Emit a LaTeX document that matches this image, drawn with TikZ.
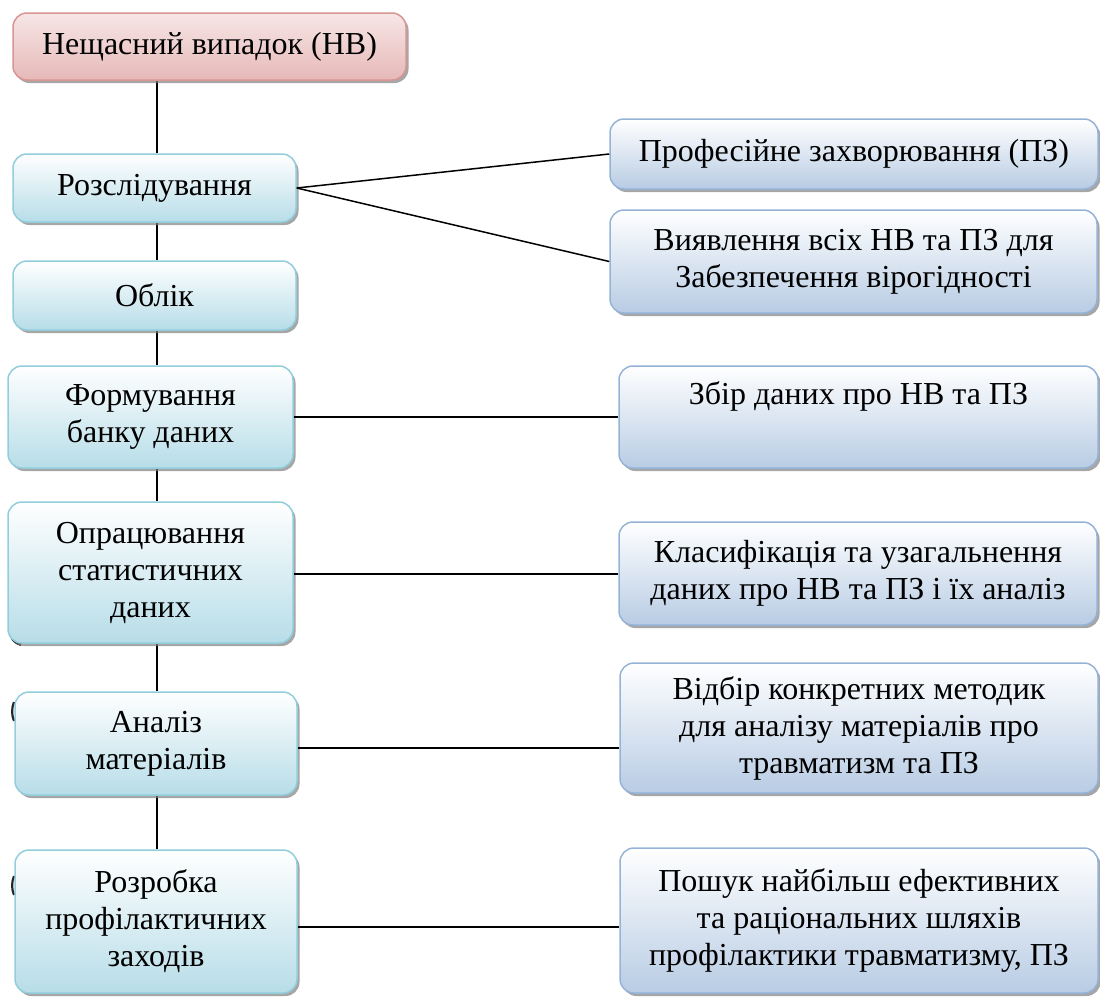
\documentclass[tikz,border=0pt]{standalone}
\usepackage{fontspec}
\setmainfont{Liberation Serif}
\usetikzlibrary{shadows,backgrounds}
\definecolor{lbBorder}{HTML}{92CDDC}
\definecolor{lbFill}{HTML}{B7DDE8}
\definecolor{rbBorder}{HTML}{95B3D7}
\definecolor{rbFill}{HTML}{B8CCE4}
\definecolor{pkBorder}{HTML}{D99594}
\definecolor{pkFill}{HTML}{E6B9B8}
\tikzset{
  box/.style={rounded corners=14pt, line width=1.5pt, align=center, inner sep=0pt,
    font=\fontsize{32}{37}\selectfont,
    drop shadow={shadow xshift=2.5pt, shadow yshift=-3pt, fill=black!50, opacity=0.7}},
  leftbox/.style={box, draw=lbBorder, top color=white, bottom color=lbFill},
  rightbox/.style={box, draw=rbBorder, top color=white, bottom color=rbFill},
  pinkbox/.style={box, draw=pkBorder, top color=pkFill!35, bottom color=pkFill},
  conn/.style={line width=1.5pt, black},
  speck/.style={line width=2.2pt, black!85},
}
\begin{document}
\begin{tikzpicture}[x=1pt,y=-1pt]
\useasboundingbox (0,0) rectangle (1100,1001);
\coordinate (spine) at (157,0);
% small dark marks peeking out at the left of three boxes
\draw[speck] (9.5,630) .. controls (10,638) and (14,643) .. (21,645);
\draw[speck] (14,702) .. controls (11.5,708) and (11.5,715) .. (14,721);
\draw[speck] (14,876) .. controls (11.5,882) and (11.5,889) .. (14,895);
% left column
\node[pinkbox, minimum width=393pt, minimum height=67pt] (nv) at (209.5,46.5) {Нещасний випадок (НВ)};
\node[leftbox, minimum width=283pt, minimum height=68pt] (rozsl) at (154.5,188) {Розслідування};
\node[leftbox, minimum width=283pt, minimum height=69pt] (oblik) at (154.5,295.5) {Облік};
\node[leftbox, minimum width=285pt, minimum height=102pt] (form) at (150.5,417) {Формування\\банку даних};
\node[leftbox, minimum width=285pt, minimum height=141pt] (opr) at (150.5,572.5) {Опрацювання\\статистичних\\даних};
\node[leftbox, minimum width=282pt, minimum height=103pt] (analiz) at (156,743.5) {Аналіз\\матеріалів};
\node[leftbox, minimum width=282pt, minimum height=143pt] (rozrob) at (156,921.5) {Розробка\\профілактичних\\заходів};
% right column
\node[rightbox, minimum width=488pt, minimum height=70pt] (prof) at (854,154) {Професійне захворювання (ПЗ)};
\node[rightbox, minimum width=487pt, minimum height=103pt] (vyav) at (853.5,261.5) {Виявлення всіх НВ та ПЗ для\\Забезпечення вірогідності};
\node[rightbox, minimum width=479pt, minimum height=102pt] (zbir) at (858.5,417) {Збір даних про НВ та ПЗ\\\strut};
\node[rightbox, minimum width=478pt, minimum height=103pt] (klas) at (858,573.5) {Класифікація та узагальнення\\даних про НВ та ПЗ і їх аналіз};
\node[rightbox, minimum width=478pt, minimum height=130pt] (vidbir) at (859,728) {Відбір конкретних методик\\для аналізу матеріалів про\\травматизм та ПЗ};
\node[rightbox, minimum width=478pt, minimum height=145pt] (poshuk) at (859,920.5) {Пошук найбільш ефективних\\та раціональних шляхів\\профілактики травматизму, ПЗ};
% connectors
\begin{scope}[on background layer]
\draw[conn] (nv.south -| spine) -- (rozsl.north -| spine);
\draw[conn] (rozsl.south -| spine) -- (oblik.north -| spine);
\draw[conn] (oblik.south -| spine) -- (form.north -| spine);
\draw[conn] (form.south -| spine) -- (opr.north -| spine);
\draw[conn] (opr.south -| spine) -- (analiz.north -| spine);
\draw[conn] (analiz.south -| spine) -- (rozrob.north -| spine);
\end{scope}
\draw[conn] (rozsl.east) -- (prof.west);
\draw[conn] (rozsl.east) -- (vyav.west);
\draw[conn] (form.east) -- (form.east -| zbir.west);
\draw[conn] ([yshift=-1.5pt]opr.east) -- ([yshift=-1.5pt]opr.east -| klas.west);
\draw[conn] ([yshift=-4.5pt]analiz.east) -- ([yshift=-4.5pt]analiz.east -| vidbir.west);
\draw[conn] ([yshift=-5.5pt]rozrob.east) -- ([yshift=-5.5pt]rozrob.east -| poshuk.west);
\end{tikzpicture}
\end{document}
